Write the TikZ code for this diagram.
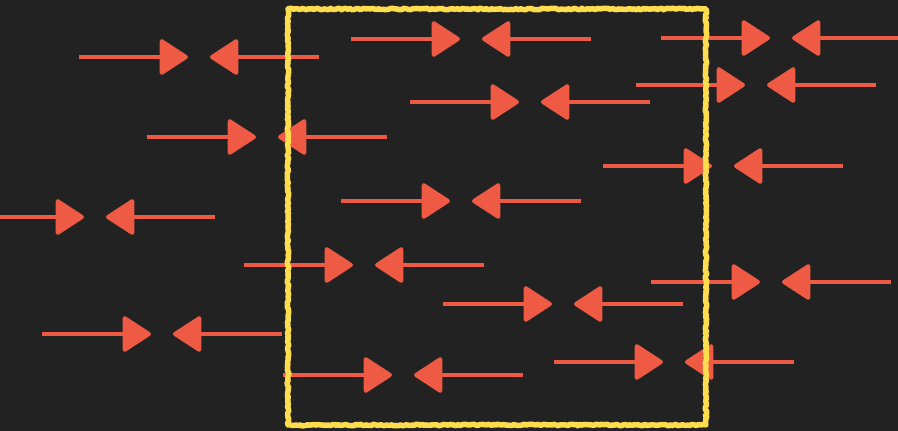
\documentclass[tikz,border=0pt]{standalone}
\definecolor{chalkbg}{HTML}{222222}
\definecolor{chalkred}{HTML}{EF5A44}
\definecolor{chalkyellow}{HTML}{FDDD4E}
\usepackage{tikz}
\usetikzlibrary{arrows.meta,decorations.pathmorphing}
\begin{document}
\begin{tikzpicture}[
    x=1pt, y=-1pt,
    rough/.style={decorate, decoration={random steps, segment length=2pt, amplitude=0.8pt}},
    arr/.style={chalkred, line width=4pt,
                -{Triangle[length=30pt, width=38pt, round]}},
    frame/.style={draw=chalkyellow, line width=5.5pt, line join=round, rough},
  ]
  % Background and bounding box
  \fill[chalkbg] (0,0) rectangle (898,431);
  \useasboundingbox (0,0) rectangle (898,431);

  % Arrow pairs, given by the centre of the gap
  \begin{scope}
    \clip (0,0) rectangle (898,431);
    \foreach \cx/\cy [count=\i] in {199/57, 471/39, 781/38, 756/85, 530/102,
        267/137, 723/166, 461/201, 95/217, 364/265, 771/282, 563/304,
        162/334, 674/362, 403/375} {
      \coordinate (la\i) at (\cx-120,\cy);
      \coordinate (lb\i) at (\cx-11,\cy);
      \coordinate (rb\i) at (\cx+11,\cy);
      \coordinate (ra\i) at (\cx+120,\cy);
      \draw[arr] (la\i) -- (lb\i);
      \draw[arr] (ra\i) -- (rb\i);
    }
  \end{scope}

  % Frame
  \coordinate (fnw) at (288,9);
  \coordinate (fse) at (706,425);
  \draw[frame] (fnw) rectangle (fse);
\end{tikzpicture}
\end{document}
